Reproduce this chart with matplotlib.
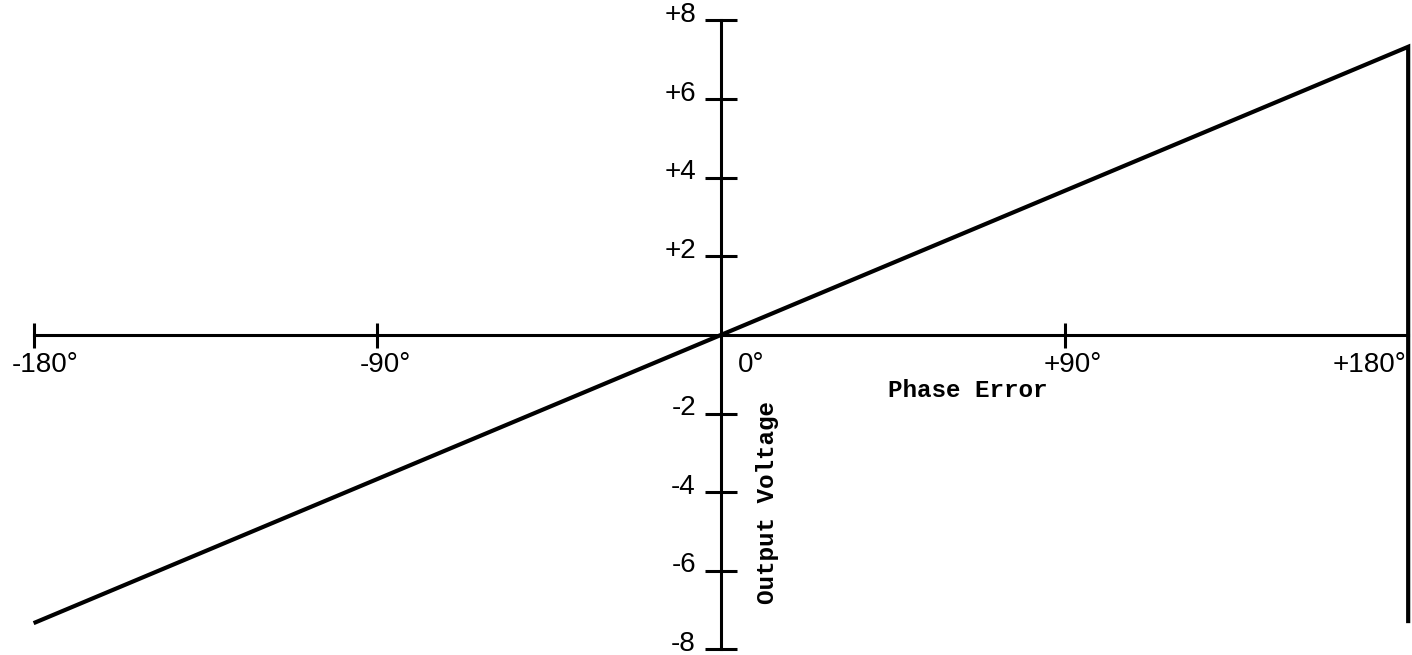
import numpy as np
import matplotlib
matplotlib.use("Agg")
import matplotlib.pyplot as plt

# Phase detector characteristic: sawtooth, output voltage vs phase error
phase_deg = [-180, 180, 180]
voltage = [-7.33, 7.33, -7.33]

xtick_vals = [-180, -90, 90]
xtick_labels = ["-180°", "-90°", "+90°", "+180°", "0°"]
ytick_vals = [-8, -6, -4, -2, 2, 4, 6, 8]
ytick_labels = ["-8", "-6", "-4", "-2", "+2", "+4", "+6", "+8"]

tick_font = "Liberation Sans"
label_font = "Liberation Mono"

fig = plt.figure(figsize=(14.12, 6.55), dpi=100)
ax = fig.add_axes([0, 0, 1, 1])
ax.set_xlim(-188.8, 181.0)
ax.set_ylim(-8.14, 8.52)

# axes through the origin
for side in ("top", "right"):
    ax.spines[side].set_visible(False)
ax.spines["bottom"].set_position(("data", 0))
ax.spines["left"].set_position(("data", 0))
ax.spines["bottom"].set_bounds(-180, 180)
ax.spines["left"].set_bounds(-8, 8)
for s in ("bottom", "left"):
    ax.spines[s].set_linewidth(2.2)

ax.set_xticks(xtick_vals)
ax.set_yticks(ytick_vals)
ax.tick_params(axis="x", direction="inout", length=18, width=2.2, labelbottom=False)
ax.tick_params(axis="y", direction="inout", length=23, width=2.2, labelleft=False)

# sawtooth
ax.plot(phase_deg, voltage, color="black", lw=3.0, solid_joinstyle="miter",
        solid_capstyle="butt")

fs = 20
# x tick labels
for v, lab in zip(xtick_vals, xtick_labels[:3]):
    dx = 8 if v == -180 else 6
    ax.annotate(lab, (v, 0), xytext=(dx, -12), textcoords="offset points",
                ha="center", va="top", fontsize=fs, family=tick_font)
ax.annotate(xtick_labels[3], (180, 0), xytext=(-1, -12), textcoords="offset points",
            ha="right", va="top", fontsize=fs, family=tick_font)
ax.annotate(xtick_labels[4], (0, 0), xytext=(12, -12), textcoords="offset points",
            ha="left", va="top", fontsize=fs, family=tick_font)

# y tick labels
for v, lab in zip(ytick_vals, ytick_labels):
    ax.annotate(lab, (0, v), xytext=(-18, 4), textcoords="offset points",
                ha="right", va="center", fontsize=fs, family=tick_font)

ax.text(43.7, -1.4, "Phase Error", ha="left", va="center", fontsize=17.5,
        family=label_font, fontweight="bold")
ax.text(12.2, -4.27, "Output Voltage", ha="center", va="center", rotation=90,
        fontsize=17.5, family=label_font, fontweight="bold")

fig.savefig("out.png", dpi=100, facecolor="white")
